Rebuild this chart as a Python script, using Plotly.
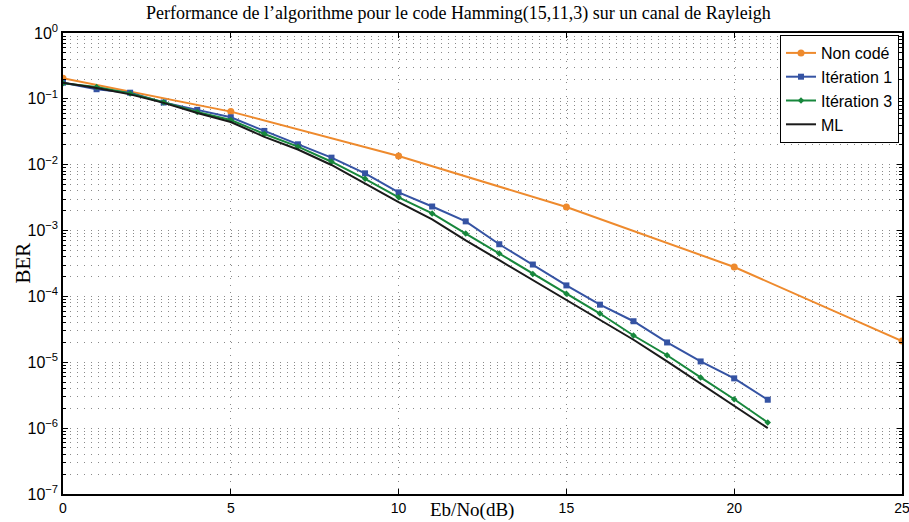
import plotly.graph_objects as go

# Eb/No (dB)
ebno_uncoded = [0, 5, 10, 15, 20, 25]
ebno_coded = list(range(0, 22))

ber_uncoded = [0.205, 0.064, 0.0136, 0.00228, 2.8e-4, 2.1e-5]
ber_iter1 = [0.176, 0.14, 0.124, 0.088, 0.068, 0.0525, 0.0326, 0.0204, 0.0128,
             0.0074, 0.0038, 0.00232, 0.00138, 6.2e-4, 3.05e-4, 1.47e-4,
             7.5e-5, 4.2e-5, 2.0e-5, 1.03e-5, 5.7e-6, 2.7e-6]
ber_iter3 = [0.172, 0.152, 0.121, 0.089, 0.063, 0.0478, 0.0293, 0.0188, 0.0111,
             0.0061, 0.0032, 0.00182, 9.0e-4, 4.5e-4, 2.2e-4, 1.1e-4,
             5.5e-5, 2.55e-5, 1.28e-5, 5.9e-6, 2.75e-6, 1.22e-6]
ber_ml = [0.176, 0.146, 0.117, 0.087, 0.061, 0.0445, 0.0265, 0.017, 0.0099,
          0.0052, 0.0027, 0.00148, 7.1e-4, 3.55e-4, 1.77e-4, 8.6e-5,
          4.4e-5, 2.2e-5, 1.03e-5, 4.7e-6, 2.15e-6, 1.0e-6]

y_exponents = [0, -1, -2, -3, -4, -5, -6, -7]
y_ticktext = ["10<sup>%s</sup>" % (str(e).replace("-", "\u2212")) for e in y_exponents]
x_ticks = [0, 5, 10, 15, 20, 25]

minor_y = [k * 10.0 ** e for e in range(-7, 0) for k in range(2, 10)]

W, H = 909, 522
L, R, T, B = 63, 7, 33, 28
pw, ph = W - L - R, H - T - B

fig = go.Figure()
fig.add_trace(go.Scatter(x=ebno_uncoded, y=ber_uncoded, name="Non codé",
                         mode="lines+markers",
                         line=dict(color="#ee8a2d", width=2),
                         marker=dict(symbol="circle", size=7, color="#ee8a2d")))
fig.add_trace(go.Scatter(x=ebno_coded, y=ber_iter1, name="Itération 1",
                         mode="lines+markers",
                         line=dict(color="#3553a3", width=2),
                         marker=dict(symbol="square", size=6, color="#3553a3")))
fig.add_trace(go.Scatter(x=ebno_coded, y=ber_iter3, name="Itération 3",
                         mode="lines+markers",
                         line=dict(color="#17873c", width=2),
                         marker=dict(symbol="diamond", size=5, color="#17873c")))
fig.add_trace(go.Scatter(x=ebno_coded, y=ber_ml, name="ML",
                         mode="lines",
                         line=dict(color="#1a1a1a", width=2)))

grid_col = "#8a8a8a"
grid_dash = "1px,6px"
fig.update_layout(
    width=W, height=H,
    margin=dict(l=L, r=R, t=T, b=B, autoexpand=False),
    paper_bgcolor="white", plot_bgcolor="white",
    showlegend=True,
    legend=dict(x=1 - 3 / pw, y=1 - 2 / ph, xanchor="right", yanchor="top",
                bgcolor="white", bordercolor="black", borderwidth=1,
                font=dict(family="Liberation Sans", size=16, color="black"),
                tracegroupgap=0, itemwidth=30),
    annotations=[
        dict(text="Performance de l\u2019algorithme pour le code Hamming(15,11,3) sur un canal de Rayleigh",
             x=(458 - L) / pw, y=1 + (T - 13) / ph, xref="paper", yref="paper",
             xanchor="center", yanchor="middle", showarrow=False,
             font=dict(family="Liberation Serif", size=18, color="black")),
        dict(text="Eb/No(dB)", x=(472 - L) / pw, y=-(510 - T - ph) / ph,
             xref="paper", yref="paper",
             xanchor="center", yanchor="middle", showarrow=False,
             font=dict(family="Liberation Serif", size=19, color="black")),
        dict(text="BER", x=-(L - 22) / pw, y=0.5, xref="paper", yref="paper",
             textangle=-90, xanchor="center", yanchor="middle", showarrow=False,
             font=dict(family="Liberation Serif", size=21, color="black")),
    ],
)

fig.update_xaxes(range=[0, 25], tickvals=x_ticks, showline=True, linecolor="black",
                 linewidth=1.5, mirror="ticks", ticks="inside", ticklen=5,
                 tickcolor="black", showgrid=True, gridcolor=grid_col,
                 griddash=grid_dash, gridwidth=1, zeroline=False, automargin=False,
                 ticklabeloverflow="allow",
                 tickfont=dict(family="Liberation Sans", size=14, color="black"))
fig.update_yaxes(type="log", range=[-7, 0], tickvals=[10.0 ** e for e in y_exponents],
                 ticktext=y_ticktext, showline=True, linecolor="black",
                 linewidth=1.5, mirror="ticks", ticks="inside", ticklen=5,
                 tickcolor="black", showgrid=True, gridcolor=grid_col,
                 griddash=grid_dash, gridwidth=1, zeroline=False, automargin=False,
                 ticklabeloverflow="allow",
                 tickfont=dict(family="Liberation Sans", size=16, color="black"),
                 minor=dict(tickmode="array", tickvals=minor_y, ticks="inside",
                            ticklen=3, tickcolor="black", showgrid=True,
                            gridcolor=grid_col, griddash=grid_dash, gridwidth=1))

fig.write_html("out.html", config={"displayModeBar": False},
               post_script="document.body.style.margin='0';")
